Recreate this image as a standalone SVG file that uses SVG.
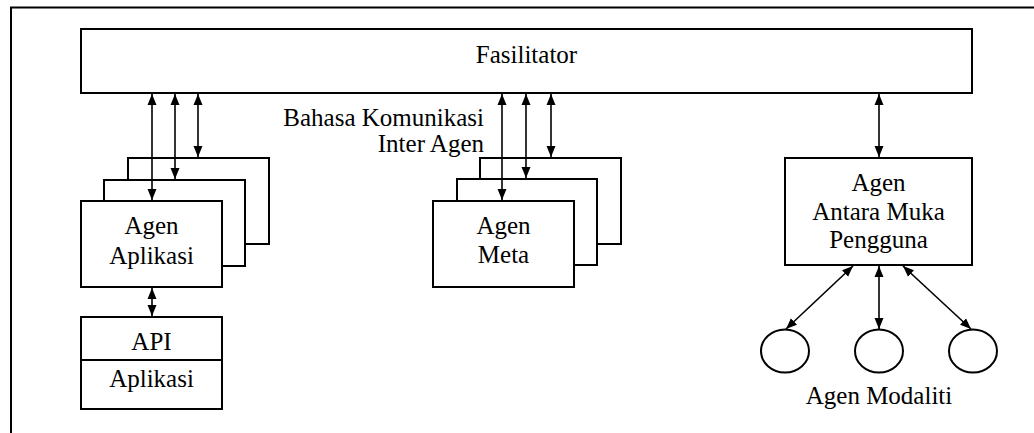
<svg xmlns="http://www.w3.org/2000/svg" width="1034" height="433" viewBox="0 0 1034 433">
  <style>
    .box { fill: #fff; stroke: #000; stroke-width: 2; }
    .frame { fill: none; stroke: #000; stroke-width: 2; }
    .link { fill: none; stroke: #000; stroke-width: 1.6; marker-start: url(#head); marker-end: url(#head); }
    .lbl { font-family: "Liberation Serif", "Times New Roman", serif; font-size: 25px; fill: #000; }
    .mid { text-anchor: middle; }
    .end { text-anchor: end; }
  </style>
  <defs>
    <marker id="head" markerUnits="userSpaceOnUse" markerWidth="12" markerHeight="10" viewBox="0 0 12 10" refX="11" refY="5" orient="auto-start-reverse">
      <path d="M0,0.5 L11,5 L0,9.5 Z" fill="#000"/>
    </marker>
  </defs>

  <rect width="1034" height="433" fill="#fff"/>

  <!-- page frame: top and left edges -->
  <path class="frame" d="M11,433 V7.5 H1034"/>

  <!-- facilitator bar -->
  <g id="fasilitator">
    <rect class="box" x="81" y="29" width="891" height="64"/>
    <text class="lbl mid" x="526.5" y="63">Fasilitator</text>
  </g>

  <!-- stacked application agents -->
  <g id="agen-aplikasi">
    <rect class="box" x="128" y="158" width="141" height="86"/>
    <rect class="box" x="104" y="180" width="141" height="86"/>
    <rect class="box" x="81" y="201" width="141" height="86"/>
    <text class="lbl mid" x="151.5" y="234">Agen</text>
    <text class="lbl mid" x="151.5" y="264">Aplikasi</text>
  </g>

  <!-- API over the application -->
  <g id="api-aplikasi">
    <rect class="box" x="81" y="317" width="141" height="92"/>
    <line x1="81" y1="360" x2="222" y2="360" stroke="#000" stroke-width="2"/>
    <text class="lbl mid" x="151.5" y="350">API</text>
    <text class="lbl mid" x="151.5" y="387">Aplikasi</text>
  </g>

  <!-- stacked meta agents -->
  <g id="agen-meta">
    <rect class="box" x="480" y="158" width="141" height="86"/>
    <rect class="box" x="457" y="179" width="140" height="86"/>
    <rect class="box" x="433" y="201" width="141" height="86"/>
    <text class="lbl mid" x="503.5" y="234">Agen</text>
    <text class="lbl mid" x="503.5" y="263">Meta</text>
  </g>

  <!-- user interface agent -->
  <g id="agen-antarmuka">
    <rect class="box" x="785" y="158" width="187" height="107"/>
    <text class="lbl mid" x="878.5" y="191">Agen</text>
    <text class="lbl mid" x="878.5" y="220">Antara Muka</text>
    <text class="lbl mid" x="878.5" y="248">Pengguna</text>
  </g>

  <!-- modality agents -->
  <g id="agen-modaliti">
    <ellipse class="box" cx="785" cy="351" rx="24" ry="21.5"/>
    <ellipse class="box" cx="879" cy="351" rx="24" ry="21.5"/>
    <ellipse class="box" cx="973" cy="351" rx="24" ry="21.5"/>
    <text class="lbl mid" x="879" y="404">Agen Modaliti</text>
  </g>

  <!-- communication language label -->
  <g id="label-bahasa">
    <text class="lbl end" x="484" y="126">Bahasa Komunikasi</text>
    <text class="lbl end" x="484" y="152">Inter Agen</text>
  </g>

  <!-- two-way connectors -->
  <g id="connectors">
    <line class="link" x1="152" y1="94" x2="152" y2="200"/>
    <line class="link" x1="175" y1="94" x2="175" y2="179"/>
    <line class="link" x1="198" y1="94" x2="198" y2="157"/>
    <line class="link" x1="152" y1="288" x2="152" y2="316"/>
    <line class="link" x1="502" y1="94" x2="502" y2="200"/>
    <line class="link" x1="526" y1="94" x2="526" y2="178"/>
    <line class="link" x1="551" y1="94" x2="551" y2="157"/>
    <line class="link" x1="879" y1="94" x2="879" y2="157"/>
    <line class="link" x1="853" y1="266" x2="786" y2="329"/>
    <line class="link" x1="879" y1="266" x2="879" y2="329"/>
    <line class="link" x1="903" y1="266" x2="971" y2="329"/>
  </g>
</svg>
